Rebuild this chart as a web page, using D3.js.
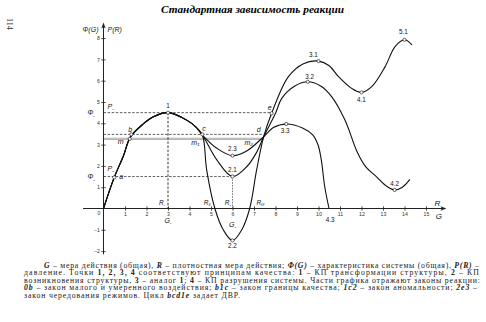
<!DOCTYPE html>
<html><head><meta charset="utf-8">
<script src="https://cdn.jsdelivr.net/npm/d3@7"></script>
<style>body{margin:0;background:#fff}svg{display:block}</style>
</head><body>
<svg id="c" width="486" height="322"></svg>
<script>
// ---------- data ----------
const xTickValues = [0,1,2,3,4,5,6,7,8,9,10,11,12,13,14,15];
const yTickValues = [-2,-1,1,2,3,4,5,6,7,8];
// main rising part 0 -> b -> 1 -> c
const growth = [[0,0],[0.5,1.46],[0.92,2.45],[1.25,3.35],[1.85,3.97],[2.3,4.3],[3,4.5],[3.87,4.15],[4.3,3.82],[4.6,3.45]];
// branches between c and d
const branch23 = [[5.27,2.83],[6,2.48],[6.66,2.7],[7.45,3.37]];
const branch21 = [[5.27,2.28],[6,1.5],[6.66,1.96],[7.1,2.6],[7.45,3.37]];
const branch22 = [[4.8,1.8],[5.18,0],[5.57,-1.0],[6,-1.5],[6.43,-1.0],[6.8,0],[7.12,1.8],[7.45,3.37]];
// branches after d
const branch33 = [[7.9,3.8],[8.5,3.97],[9.28,3.77],[9.74,3.45],[9.98,2.98],[10.13,2.28],[10.29,1.02],[10.49,0]];
const branch32 = [[8.0,4.47],[8.29,5.17],[8.9,5.75],[9.5,5.95],[10.1,5.75],[10.61,5.25],[11.23,4.15],[11.8,2.65],[12.2,1.95],[12.69,1.5],[13.15,1.06],[13.54,0.87],[13.9,1.0],[14.25,1.37]];
const branch31 = [[7.82,4.47],[8.6,6.19],[9.3,6.8],[10,6.92],[10.5,6.7],[10.92,6.2],[11.54,5.64],[12,5.45],[12.5,5.75],[13.1,6.66],[13.56,7.6],[14,7.92],[14.35,7.68]];
// marked points [G, value, label]
const numberedPoints = [[3,4.5,"1"],[6,2.48,"2.3"],[6,1.5,"2.1"],[6,-1.5,"2.2"],[8.5,3.97,"3.3"],[9.5,5.95,"3.2"],[10,6.92,"3.1"],[12,5.45,"4.1"],[13.54,0.87,"4.2"],[14,7.92,"5.1"],[10.49,0,"4.3"]];
const letterPoints = [[0.5,1.46,"a"],[1.29,3.48,"b"],[1.22,3.27,"m"],[4.6,3.48,"c"],[4.55,3.27,"m₁"],[7.45,3.4,"d"],[7.45,3.27,"m₂"],[7.82,4.47,"e"]];
const levelPhi1 = 4.5, levelBC = 3.48, levelM = 3.27, levelPhi2 = 1.5;
const G1 = 3, G2 = 6, Gd = 7.45, Ge = 7.82;
const rLabels = [[2.72,"R","₁"],[4.8,"R","II"],[5.78,"R","₂"],[7.25,"R","III"]];
const gLabels = [[3,"G","₁"],[6,"G","₂"]];
const titleText = "Стандартная зависимость реакции";
const captionLines = [
  [["G",1]," – мера действия (общая), ",["R",1]," – плотностная мера действия; ",["Φ(G)",1]," – характеристика системы (общая), ",["P(R)",1]," –"],
  ["давление. Точки ",["1, 2, 3, 4",2]," соответствуют принципам качества: ",["1",2]," – КП трансформации структуры, ",["2",2]," – КП"],
  ["возникновения структуры, ",["3",2]," – аналог ",["1",2],"; ",["4",2]," – КП разрушения системы. Части графика отражают законы реакции:"],
  [["0b",1]," – закон малого и умеренного воздействия; ",["b1c",1]," – закон границы качества; ",["1c2",1]," – закон аномальности; ",["2e3",1]," –"],
  ["закон чередования режимов. Цикл ",["bcd1e",1]," задает ДВР."]
];

// ---------- drawing ----------
const svg = d3.select("#c");
const x = d3.scaleLinear().domain([0,15]).range([103.5,426]);
const y = d3.scaleLinear().domain([-2,8]).range([251.1,38.1]);
const SANS = "'Liberation Sans', Arial, sans-serif";
const SERIF = "'Liberation Serif', 'Times New Roman', serif";

// title & page number
svg.append("text").attr("x",161).attr("y",12.5).attr("font-family",SERIF)
  .attr("font-size",11).attr("font-weight","bold").attr("font-style","italic")
  .attr("textLength",183).attr("lengthAdjust","spacingAndGlyphs").text(titleText);
svg.append("text").attr("transform","translate(7,18) rotate(90)").attr("font-family",SERIF)
  .attr("font-size",8).attr("fill","#333").text("114");

// reference lines
const ref = svg.append("g");
function hline(v, g0, g1, opts){
  ref.append("line").attr("x1",x(g0)).attr("x2",x(g1)).attr("y1",y(v)).attr("y2",y(v))
    .attr("stroke",opts.c).attr("stroke-width",opts.w).attr("stroke-dasharray",opts.d||null);
}
hline(levelM, 0, Gd, {c:"#a8a8a8", w:2.4});
hline(levelM, 0, Gd, {c:"#dcdcdc", w:0.7});
hline(levelPhi1, 0, Ge, {c:"#333", w:0.8, d:"2.5,1.6"});
hline(levelBC, 0, Gd, {c:"#333", w:0.8, d:"2.5,1.6"});
hline(levelPhi2, 0, G2, {c:"#333", w:0.8, d:"2.5,1.6"});
ref.append("line").attr("x1",x(G1)).attr("x2",x(G1)).attr("y1",y(levelPhi1)).attr("y2",y(0))
  .attr("stroke","#222").attr("stroke-width",0.9).attr("stroke-dasharray","2.5,1.6");
ref.append("line").attr("x1",x(G2)).attr("x2",x(G2)).attr("y1",y(levelPhi2)).attr("y2",y(0))
  .attr("stroke","#666").attr("stroke-width",0.9).attr("stroke-dasharray","1.6,1.2");

// axes
const xAxis = svg.append("g").attr("transform",`translate(0,${y(0)})`)
  .call(d3.axisBottom(x).tickValues(xTickValues.filter(d=>d>0)).tickSize(0).tickFormat(d3.format("d")));
xAxis.select(".domain").remove();
xAxis.append("line").attr("x1",x(-0.95)).attr("x2",x(15.85)).attr("stroke","#222").attr("stroke-width",1);
xAxis.append("path").attr("d",`M${x(15.95)},0 l-6,-2.2 l1.5,2.2 l-1.5,2.2 z`).attr("fill","#222");
xAxis.selectAll(".tick").append("line").attr("y1",-2.2).attr("y2",2.2).attr("stroke","#222").attr("stroke-width",0.8);
xAxis.selectAll(".tick text").attr("y",4).attr("font-size",5.2).attr("font-family",SANS).attr("fill","#333");

const yAxis = svg.append("g").attr("transform",`translate(${x(0)},0)`)
  .call(d3.axisLeft(y).tickValues(yTickValues).tickSize(0).tickFormat(d3.format("d")));
yAxis.select(".domain").remove();
yAxis.append("line").attr("y1",y(-2.15)).attr("y2",y(8.6)).attr("stroke","#222").attr("stroke-width",1);
yAxis.append("path").attr("d",`M0,${y(8.73)} l-2.2,6 l2.2,-1.5 l2.2,1.5 z`).attr("fill","#222");
yAxis.selectAll(".tick").append("line").attr("x1",-2.2).attr("x2",2.2).attr("stroke","#222").attr("stroke-width",0.8);
yAxis.selectAll(".tick text").attr("x",-3.5).attr("font-size",5.2).attr("font-family",SANS).attr("fill","#333");
svg.append("text").attr("x",x(0)-3).attr("y",y(0)+6.5).attr("text-anchor","end")
  .attr("font-size",5.2).attr("font-family",SANS).attr("fill","#333").text("0");

// axis titles
function it(tx,ty,txt,size,anchor){
  return svg.append("text").attr("x",tx).attr("y",ty).attr("font-family",SANS).attr("font-style","italic")
    .attr("font-size",size||7).attr("text-anchor",anchor||"start").attr("fill","#111").text(txt);
}
it(x(0)-21,32,"Φ(G)",7);
it(x(0)+4,32,"P(R)",7);
it(x(15.4),y(0)-3,"R",8);
it(x(15.45),y(0)+10,"G",8);
function sub(tx,ty,main,s,size,anchor){
  const t = it(tx,ty,main,size,anchor);
  t.append("tspan").attr("font-size",(size||7)*0.6).attr("dy",1.5).text(s);
  return t;
}
sub(x(0)-16,y(levelPhi1)+2.5,"Φ","₁",7);
sub(x(0)+4,y(levelPhi1)-4,"P","₁",7);
sub(x(0)-16,y(levelPhi2)+2.5,"Φ","₂",7);
sub(x(0)+4,y(levelPhi2)-6,"P","₂",7);
rLabels.forEach(([g,m,s])=>sub(x(g)-3,y(0)-4,m,s,6.5));
gLabels.forEach(([g,m,s])=>sub(x(g)-3.5,y(0)+(s==="₁"?14:18),m,s,7));

// curves
const line = d3.line().x(d=>x(d[0])).y(d=>y(d[1])).curve(d3.curveCatmullRom.alpha(0.5));
const curves = [
  growth.concat(branch23, branch33),
  growth.concat(branch21, branch32),
  growth.concat(branch22, branch31)
];
svg.append("g").selectAll("path").data(curves).join("path").attr("d",line)
  .attr("fill","none").attr("stroke","#111").attr("stroke-width",1.1);

// markers
const markerSet = numberedPoints.filter(p=>p[2]!=="4.3").concat(letterPoints.filter(p=>["a","b","m","c","e"].includes(p[2])));
svg.append("g").selectAll("circle").data(markerSet).join("circle")
  .attr("cx",d=>x(d[0])).attr("cy",d=>y(d[1])).attr("r",1.6)
  .attr("fill","#fff").attr("stroke","#222").attr("stroke-width",0.7);

// numbered labels
const numOff = {"1":[0,-5],"2.3":[0,-4.5],"2.1":[0,-4.5],"2.2":[0,8],"3.3":[-1,9],"3.2":[2,-3],"3.1":[-5,-4],"4.1":[0,10],"4.2":[0,-4],"5.1":[-1,-6],"4.3":[1,13]};
svg.append("g").selectAll("text").data(numberedPoints).join("text")
  .attr("x",d=>x(d[0])+numOff[d[2]][0]).attr("y",d=>y(d[1])+numOff[d[2]][1])
  .attr("text-anchor","middle").attr("font-family",SANS).attr("font-size",6.3).attr("fill","#111")
  .text(d=>d[2]);

// letter labels
const letOff = {"a":[7,2],"b":[-1,-2],"m":[-9,5],"c":[1.5,-3],"m₁":[-6,6],"d":[-5,-4],"m₂":[-15,6],"e":[-2,-3]};
svg.append("g").selectAll("text").data(letterPoints).join("text")
  .attr("x",d=>x(d[0])+letOff[d[2]][0]).attr("y",d=>y(d[1])+letOff[d[2]][1])
  .attr("text-anchor","middle").attr("font-family",SANS).attr("font-style","italic")
  .attr("font-size",7).attr("fill","#111").text(d=>d[2]);

// caption
const capX = [44,24,24,24,24], capW = [435,455,456,453,216];
captionLines.forEach((parts,i)=>{
  const t = svg.append("text").attr("x",capX[i]).attr("y",267.5+i*7.6)
    .attr("font-family",SERIF).attr("font-size",7.8).attr("fill","#222")
    .attr("textLength",capW[i]).attr("lengthAdjust","spacing");
  parts.forEach(p=>{
    if (typeof p === "string") t.append("tspan").text(p);
    else t.append("tspan").attr("font-weight","bold").attr("font-style",p[1]===1?"italic":"normal").text(p[0]);
  });
});
</script>
</body></html>
